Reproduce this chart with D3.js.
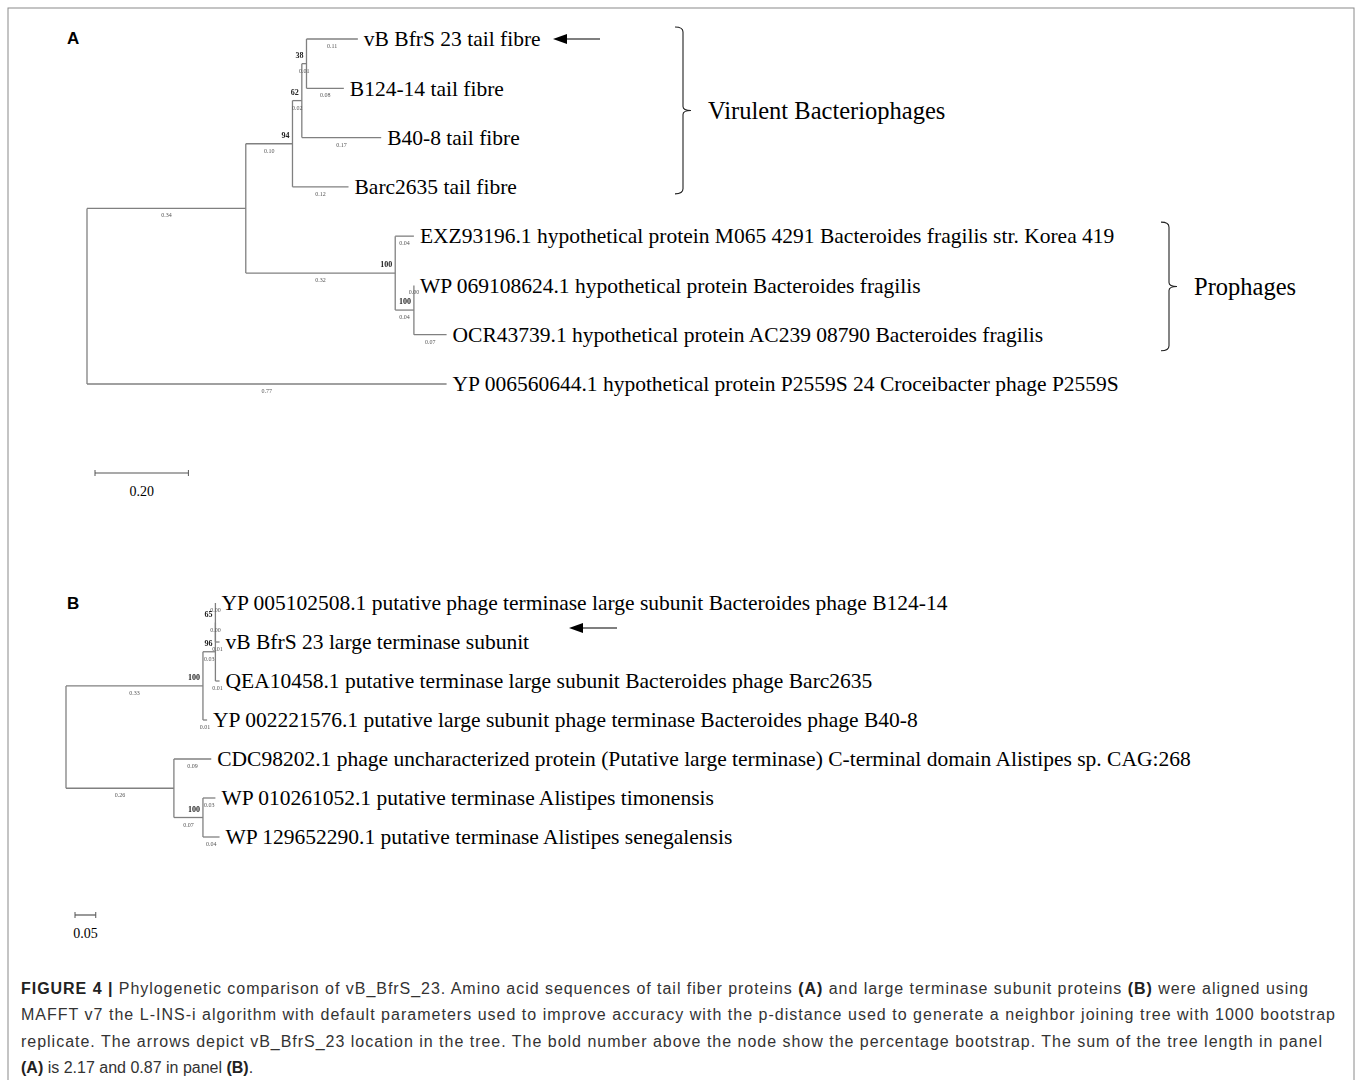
<!DOCTYPE html>
<html>
<head>
<meta charset="utf-8">
<script src="https://cdn.jsdelivr.net/npm/d3@7"></script>
<style>
  body { margin: 0; background: #fff; }
  svg { display: block; }
  .small { filter: grayscale(1); }
</style>
</head>
<body>
<script>
// Panel A : tail fibre tree. id, parent, branch length, bootstrap
var treeA = [
  ["rootA", "", 0, null],
  ["a1", "rootA", 0.34, null],
  ["a94", "a1", 0.10, 94],
  ["a62", "a94", 0.02, 62],
  ["a38", "a62", 0.01, 38],
  ["vB BfrS 23 tail fibre", "a38", 0.11, null],
  ["B124-14 tail fibre", "a38", 0.08, null],
  ["B40-8 tail fibre", "a62", 0.17, null],
  ["Barc2635 tail fibre", "a94", 0.12, null],
  ["a100", "a1", 0.32, 100],
  ["EXZ93196.1 hypothetical protein M065 4291 Bacteroides fragilis str. Korea 419", "a100", 0.04, null],
  ["a100b", "a100", 0.04, 100],
  ["WP 069108624.1 hypothetical protein Bacteroides fragilis", "a100b", 0.00, null],
  ["OCR43739.1 hypothetical protein AC239 08790 Bacteroides fragilis", "a100b", 0.07, null],
  ["YP 006560644.1 hypothetical protein P2559S 24 Croceibacter phage P2559S", "rootA", 0.77, null]
];

// Panel B : large terminase tree
var treeB = [
  ["rootB", "", 0, null],
  ["b100", "rootB", 0.33, 100],
  ["b96", "b100", 0.03, 96],
  ["b65", "b96", 0.00, 65],
  ["YP 005102508.1 putative phage terminase large subunit Bacteroides phage B124-14", "b65", 0.00, null],
  ["vB BfrS 23 large terminase subunit", "b65", 0.01, null],
  ["QEA10458.1 putative terminase large subunit Bacteroides phage Barc2635", "b96", 0.01, null],
  ["YP 002221576.1 putative large subunit phage terminase Bacteroides phage B40-8", "b100", 0.01, null],
  ["b2", "rootB", 0.26, null],
  ["CDC98202.1 phage uncharacterized protein (Putative large terminase) C-terminal domain Alistipes sp. CAG:268", "b2", 0.09, null],
  ["b100b", "b2", 0.07, 100],
  ["WP 010261052.1 putative terminase Alistipes timonensis", "b100b", 0.03, null],
  ["WP 129652290.1 putative terminase Alistipes senegalensis", "b100b", 0.04, null]
];

// groups in panel A (first leaf index, last leaf index, label)
var groupsA = [[0, 3, "Virulent Bacteriophages"], [4, 6, "Prophages"]];
var arrowLeafA = "vB BfrS 23 tail fibre";
var arrowLeafB = "vB BfrS 23 large terminase subunit";
var scaleBarA = 0.20;
var scaleBarB = 0.05;

var caption = [
  [["FIGURE 4 | ", true], ["Phylogenetic comparison of vB_BfrS_23. Amino acid sequences of tail fiber proteins ", false], ["(A)", true], [" and large terminase subunit proteins ", false], ["(B)", true], [" were aligned using", false]],
  [["MAFFT v7 the L-INS-i algorithm with default parameters used to improve accuracy with the p-distance used to generate a neighbor joining tree with 1000 bootstrap", false]],
  [["replicate. The arrows depict vB_BfrS_23 location in the tree. The bold number above the node show the percentage bootstrap. The sum of the tree length in panel", false]],
  [["(A)", true], [" is 2.17 and 0.87 in panel ", false], ["(B)", true], [".", false]]
];
var captionWidths = [1287, 1314, 1301, null];

var W = 1358, H = 1080;
var lineColor = "#808080";
var serif = "'Liberation Serif', 'Times New Roman', serif";

var svg = d3.select("body").append("svg")
  .attr("width", W)
  .attr("height", H);

// outer frame
svg.append("rect")
  .attr("x", 8).attr("y", 8)
  .attr("width", 1346).attr("height", H + 20)
  .attr("fill", "none")
  .attr("stroke", "#8a8a8a")
  .attr("stroke-width", 1);

// Build a tree from rows, place nodes with the given scales
function layout(rows, x, y) {
  var root = d3.stratify()
    .id(function(d) { return d[0]; })
    .parentId(function(d) { return d[1] || null; })(rows);
  root.eachBefore(function(n) {
    n.dist = n.parent ? n.parent.dist + n.data[2] : 0;
    n.px = x(n.dist);
  });
  var k = 0;
  root.eachAfter(function(n) {
    if (!n.children) { n.py = y(k); n.leafIndex = k; k++; }
    else n.py = (n.children[0].py + n.children[n.children.length - 1].py) / 2;
  });
  return root;
}

function drawTree(g, root, labelSize) {
  var nodes = root.descendants();

  // horizontal branches
  g.selectAll("line.h").data(nodes.filter(function(n) { return n.parent; }))
    .join("line").attr("class", "h")
    .attr("x1", function(n) { return n.parent.px; })
    .attr("x2", function(n) { return n.px; })
    .attr("y1", function(n) { return n.py; })
    .attr("y2", function(n) { return n.py; })
    .attr("stroke", lineColor).attr("stroke-width", 1.3);

  // vertical connectors
  g.selectAll("line.v").data(nodes.filter(function(n) { return n.children; }))
    .join("line").attr("class", "v")
    .attr("x1", function(n) { return n.px; })
    .attr("x2", function(n) { return n.px; })
    .attr("y1", function(n) { return n.children[0].py; })
    .attr("y2", function(n) { return n.children[n.children.length - 1].py; })
    .attr("stroke", lineColor).attr("stroke-width", 1.3);

  var small = g.append("g").attr("class", "small");

  // branch lengths
  small.selectAll("text.bl").data(nodes.filter(function(n) { return n.parent; }))
    .join("text").attr("class", "bl")
    .attr("x", function(n) { return (n.parent.px + n.px) / 2; })
    .attr("y", function(n) { return n.py + 9; })
    .attr("text-anchor", "middle")
    .attr("font-family", serif).attr("font-size", 6)
    .attr("fill", "#555")
    .text(function(n) { return n.data[2].toFixed(2); });

  // bootstrap values
  small.selectAll("text.bs").data(nodes.filter(function(n) { return n.data[3] != null; }))
    .join("text").attr("class", "bs")
    .attr("x", function(n) { return n.px - 3; })
    .attr("y", function(n) { return n.py - 6; })
    .attr("text-anchor", "end")
    .attr("font-family", serif).attr("font-size", 8).attr("font-weight", "bold")
    .attr("fill", "#222")
    .text(function(n) { return n.data[3]; });

  // leaf labels
  g.selectAll("text.lf").data(root.leaves())
    .join("text").attr("class", "lf")
    .attr("x", function(n) { return n.px + 6; })
    .attr("y", function(n) { return n.py; })
    .attr("dy", "0.34em")
    .attr("font-family", serif).attr("font-size", labelSize)
    .attr("fill", "#000")
    .text(function(n) { return n.id; });
}

function arrow(g, tipX, endX, yy) {
  g.append("line")
    .attr("x1", tipX + 8).attr("x2", endX)
    .attr("y1", yy).attr("y2", yy)
    .attr("stroke", "#000").attr("stroke-width", 1.2);
  g.append("path")
    .attr("d", "M" + tipX + "," + yy + "L" + (tipX + 14) + "," + (yy - 5) + "L" + (tipX + 14) + "," + (yy + 5) + "Z")
    .attr("fill", "#000");
}

function bracket(g, bx, top, bottom, label) {
  var mid = (top + bottom) / 2;
  g.append("path")
    .attr("d", "M" + (bx - 8) + "," + top + "Q" + bx + "," + top + " " + bx + "," + (top + 5) +
      "L" + bx + "," + (mid - 4) + "Q" + bx + "," + mid + " " + (bx + 8) + "," + mid +
      "Q" + bx + "," + mid + " " + bx + "," + (mid + 4) +
      "L" + bx + "," + (bottom - 5) + "Q" + bx + "," + bottom + " " + (bx - 8) + "," + bottom)
    .attr("fill", "none").attr("stroke", "#222").attr("stroke-width", 1.1);
  g.append("text")
    .attr("x", bx + 25).attr("y", mid).attr("dy", "0.34em")
    .attr("font-family", serif).attr("font-size", 24.5)
    .text(label);
}

function scaleBar(g, x, x0, yy, len) {
  var w = x(len) - x(0);
  g.append("line")
    .attr("x1", x0).attr("x2", x0 + w)
    .attr("y1", yy).attr("y2", yy)
    .attr("stroke", "#555").attr("stroke-width", 1.2);
  [x0, x0 + w].forEach(function(t) {
    g.append("line").attr("x1", t).attr("x2", t)
      .attr("y1", yy - 3).attr("y2", yy + 3)
      .attr("stroke", "#555").attr("stroke-width", 1);
  });
  g.append("text")
    .attr("x", x0 + w / 2).attr("y", yy + 23)
    .attr("text-anchor", "middle")
    .attr("font-family", serif).attr("font-size", 14)
    .text(len.toFixed(2));
}

function panelLetter(t, yy) {
  svg.append("text")
    .attr("x", 67).attr("y", yy)
    .attr("font-family", "'Liberation Sans', Arial, sans-serif")
    .attr("font-weight", "bold").attr("font-size", 17)
    .text(t);
}

// ---- Panel A
var xA = d3.scaleLinear().domain([0, 1]).range([87, 87 + 467]);
var yA = d3.scaleLinear().domain([0, 7]).range([39, 384]);
var rootA = layout(treeA, xA, yA);
var gA = svg.append("g");
drawTree(gA, rootA, 21.5);
panelLetter("A", 44);

var leavesA = rootA.leaves();
var arrA = leavesA.find(function(n) { return n.id === arrowLeafA; });
arrow(gA, 553, 600, arrA.py);

var bracketX = [683, 1169];
var padTop = [12, 14], padBottom = [7, 16];
groupsA.forEach(function(gr, i) {
  bracket(gA, bracketX[i], leavesA[gr[0]].py - padTop[i], leavesA[gr[1]].py + padBottom[i], gr[2]);
});
scaleBar(gA, xA, 95, 473, scaleBarA);

// ---- Panel B
var xB = d3.scaleLinear().domain([0, 1]).range([66, 66 + 415]);
var yB = d3.scaleLinear().domain([0, 6]).range([603, 837]);
var rootB = layout(treeB, xB, yB);
var gB = svg.append("g");
drawTree(gB, rootB, 21.5);
panelLetter("B", 609);

var arrB = rootB.leaves().find(function(n) { return n.id === arrowLeafB; });
arrow(gB, 569, 617, arrB.py - 14);
scaleBar(gB, xB, 75, 915, scaleBarB);

// ---- Caption
caption.forEach(function(line, i) {
  var t = svg.append("text")
    .attr("x", 21).attr("y", 994 + i * 26.3)
    .attr("font-family", "'Liberation Sans', Arial, sans-serif")
    .attr("font-size", 16)
    .attr("fill", "#333");
  if (captionWidths[i]) t.attr("textLength", captionWidths[i]).attr("lengthAdjust", "spacing");
  line.forEach(function(seg) {
    t.append("tspan")
      .attr("font-weight", seg[1] ? "bold" : "normal")
      .attr("fill", seg[1] ? "#222" : "#333")
      .text(seg[0]);
  });
});
</script>
</body>
</html>
